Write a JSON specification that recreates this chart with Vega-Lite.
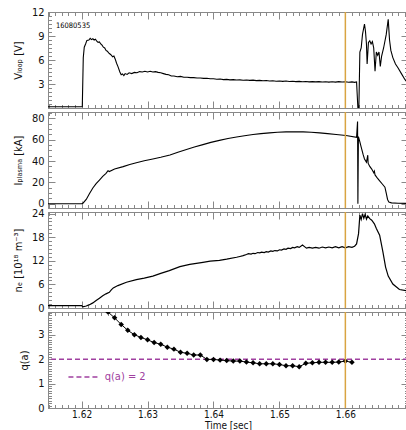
{
"$schema": "https://vega.github.io/schema/vega-lite/v6.json",
"padding": {"left": 11, "top": 5, "right": 0, "bottom": 0},
"spacing": 4,
"bounds": "flush",
"config": {
  "view": {"stroke": "#888", "strokeWidth": 1},
  "font": "Liberation Sans Narrow, DejaVu Sans Condensed, Liberation Sans, sans-serif",
  "axis": {"labelFont": "Liberation Sans Narrow, DejaVu Sans Condensed, Liberation Sans, sans-serif", "titleFont": "Liberation Sans Narrow, DejaVu Sans Condensed, Liberation Sans, sans-serif", "titleFontWeight": "normal", "labelFontSize": 11, "titleFontSize": 11, "labelColor": "#111", "titleColor": "#111", "domainColor": "#888", "tickColor": "#888", "grid": false, "labelOverlap": false, "labelFlush": false, "titlePadding": 8, "labelPadding": 4, "tickSize": 0, "minExtent": 0}
},
"datasets": {
"vloop": [{"t":1.6149,"v":0.15},{"t":1.6201,"v":0.15},{"t":1.62025,"v":6.3},{"t":1.6204,"v":7.6},{"t":1.6206,"v":8.0},{"t":1.6208,"v":8.45},{"t":1.6211,"v":8.5},{"t":1.6213,"v":8.7},{"t":1.6215,"v":8.55},{"t":1.6217,"v":8.65},{"t":1.6219,"v":8.5},{"t":1.6221,"v":8.6},{"t":1.6223,"v":8.35},{"t":1.6225,"v":8.2},{"t":1.6227,"v":8.25},{"t":1.6229,"v":8.0},{"t":1.6231,"v":7.85},{"t":1.6233,"v":7.6},{"t":1.6235,"v":7.5},{"t":1.6237,"v":7.2},{"t":1.6239,"v":7.1},{"t":1.6241,"v":6.9},{"t":1.6243,"v":6.75},{"t":1.6245,"v":6.6},{"t":1.6247,"v":6.4},{"t":1.6249,"v":6.5},{"t":1.6251,"v":6.1},{"t":1.6253,"v":5.6},{"t":1.6255,"v":5.2},{"t":1.6258,"v":4.5},{"t":1.626,"v":4.15},{"t":1.6262,"v":4.25},{"t":1.6264,"v":4.05},{"t":1.6266,"v":4.3},{"t":1.6269,"v":4.2},{"t":1.6272,"v":4.4},{"t":1.6276,"v":4.3},{"t":1.628,"v":4.45},{"t":1.6284,"v":4.4},{"t":1.6288,"v":4.55},{"t":1.6292,"v":4.5},{"t":1.6296,"v":4.6},{"t":1.63,"v":4.5},{"t":1.6304,"v":4.6},{"t":1.6308,"v":4.5},{"t":1.6312,"v":4.55},{"t":1.6316,"v":4.45},{"t":1.632,"v":4.4},{"t":1.6324,"v":4.3},{"t":1.6328,"v":4.2},{"t":1.6332,"v":4.15},{"t":1.6336,"v":4.0},{"t":1.634,"v":4.0},{"t":1.6345,"v":3.9},{"t":1.635,"v":3.95},{"t":1.6355,"v":3.85},{"t":1.636,"v":3.85},{"t":1.6365,"v":3.8},{"t":1.637,"v":3.8},{"t":1.6375,"v":3.75},{"t":1.638,"v":3.75},{"t":1.6385,"v":3.7},{"t":1.639,"v":3.72},{"t":1.6395,"v":3.65},{"t":1.64,"v":3.66},{"t":1.6405,"v":3.6},{"t":1.641,"v":3.62},{"t":1.6415,"v":3.55},{"t":1.642,"v":3.58},{"t":1.6425,"v":3.52},{"t":1.643,"v":3.55},{"t":1.6435,"v":3.5},{"t":1.644,"v":3.52},{"t":1.6445,"v":3.47},{"t":1.645,"v":3.5},{"t":1.6455,"v":3.45},{"t":1.646,"v":3.48},{"t":1.6465,"v":3.42},{"t":1.647,"v":3.45},{"t":1.6475,"v":3.4},{"t":1.648,"v":3.43},{"t":1.6485,"v":3.38},{"t":1.649,"v":3.4},{"t":1.6495,"v":3.35},{"t":1.65,"v":3.38},{"t":1.6505,"v":3.33},{"t":1.651,"v":3.37},{"t":1.6515,"v":3.32},{"t":1.652,"v":3.35},{"t":1.6525,"v":3.3},{"t":1.653,"v":3.33},{"t":1.6535,"v":3.28},{"t":1.654,"v":3.32},{"t":1.6545,"v":3.27},{"t":1.655,"v":3.3},{"t":1.6555,"v":3.26},{"t":1.656,"v":3.3},{"t":1.6565,"v":3.25},{"t":1.657,"v":3.29},{"t":1.6575,"v":3.24},{"t":1.658,"v":3.28},{"t":1.6585,"v":3.24},{"t":1.659,"v":3.3},{"t":1.6595,"v":3.25},{"t":1.66,"v":3.28},{"t":1.6605,"v":3.22},{"t":1.661,"v":3.27},{"t":1.6614,"v":3.2},{"t":1.6617,"v":3.25},{"t":1.6619,"v":0},{"t":1.66205,"v":0},{"t":1.6622,"v":7.0},{"t":1.6624,"v":7.5},{"t":1.6626,"v":9.2},{"t":1.6629,"v":10.5},{"t":1.66305,"v":9.6},{"t":1.6632,"v":8.0},{"t":1.6633,"v":5.5},{"t":1.6635,"v":8.2},{"t":1.6637,"v":8.4},{"t":1.6639,"v":8.0},{"t":1.6641,"v":8.3},{"t":1.6643,"v":7.5},{"t":1.6645,"v":4.6},{"t":1.6647,"v":7.0},{"t":1.6649,"v":6.6},{"t":1.6651,"v":7.0},{"t":1.6653,"v":5.2},{"t":1.6655,"v":6.5},{"t":1.6658,"v":7.5},{"t":1.6662,"v":9.2},{"t":1.6665,"v":11.1},{"t":1.6667,"v":8.5},{"t":1.6669,"v":7.2},{"t":1.6672,"v":6.3},{"t":1.6676,"v":5.5},{"t":1.668,"v":5.0},{"t":1.6685,"v":4.3},{"t":1.669,"v":3.6},{"t":1.6695,"v":3.1}],
"ip": [{"t":1.6149,"i":0},{"t":1.62,"i":0},{"t":1.6202,"i":0.5},{"t":1.6207,"i":4},{"t":1.6212,"i":9.5},{"t":1.6217,"i":14.8},{"t":1.6222,"i":18.8},{"t":1.6227,"i":22.2},{"t":1.6232,"i":25.6},{"t":1.6237,"i":28.5},{"t":1.624,"i":31},{"t":1.6242,"i":30.2},{"t":1.625,"i":32.5},{"t":1.6263,"i":34.8},{"t":1.6273,"i":36.8},{"t":1.6283,"i":38.5},{"t":1.6295,"i":40.3},{"t":1.6308,"i":41.9},{"t":1.632,"i":43.5},{"t":1.6334,"i":45.6},{"t":1.6346,"i":48.3},{"t":1.6359,"i":50.8},{"t":1.6371,"i":53.1},{"t":1.6384,"i":55.4},{"t":1.6396,"i":57.5},{"t":1.6409,"i":59.4},{"t":1.6422,"i":61.1},{"t":1.6435,"i":62.5},{"t":1.6447,"i":63.8},{"t":1.646,"i":64.9},{"t":1.6472,"i":65.7},{"t":1.6485,"i":66.4},{"t":1.6497,"i":67},{"t":1.651,"i":67.4},{"t":1.6523,"i":67.5},{"t":1.6536,"i":67.4},{"t":1.6548,"i":67},{"t":1.6561,"i":66.4},{"t":1.6573,"i":65.7},{"t":1.6586,"i":64.9},{"t":1.6601,"i":64},{"t":1.6617,"i":62.3},{"t":1.66185,"i":77},{"t":1.6619,"i":0},{"t":1.66198,"i":63},{"t":1.6622,"i":58},{"t":1.6624,"i":53},{"t":1.6627,"i":46},{"t":1.6629,"i":42},{"t":1.6632,"i":39},{"t":1.6634,"i":45.5},{"t":1.66345,"i":38},{"t":1.6637,"i":35},{"t":1.664,"i":32.5},{"t":1.6643,"i":29},{"t":1.6644,"i":30.5},{"t":1.6645,"i":27},{"t":1.6648,"i":24.5},{"t":1.6652,"i":21.5},{"t":1.6656,"i":18.5},{"t":1.666,"i":15.5},{"t":1.6662,"i":10},{"t":1.6664,"i":4},{"t":1.6666,"i":1.5},{"t":1.667,"i":0.8},{"t":1.668,"i":0.5},{"t":1.6695,"i":0.3}],
"ne": [{"t":1.6149,"n":0.6},{"t":1.62,"n":0.6},{"t":1.6202,"n":0.3},{"t":1.6207,"n":0.5},{"t":1.6212,"n":0.85},{"t":1.6217,"n":1.3},{"t":1.6222,"n":1.9},{"t":1.6227,"n":2.5},{"t":1.6232,"n":3.1},{"t":1.6237,"n":3.6},{"t":1.6242,"n":4.0},{"t":1.6245,"n":4.6},{"t":1.6248,"n":5.1},{"t":1.6255,"n":5.7},{"t":1.6268,"n":6.55},{"t":1.6283,"n":7.2},{"t":1.6295,"n":7.6},{"t":1.6308,"n":8.1},{"t":1.632,"n":8.8},{"t":1.6333,"n":9.5},{"t":1.6349,"n":10.5},{"t":1.6364,"n":11.1},{"t":1.6384,"n":11.6},{"t":1.6395,"n":11.9},{"t":1.6409,"n":12.1},{"t":1.642,"n":12.4},{"t":1.6435,"n":12.9},{"t":1.644,"n":13.1},{"t":1.6445,"n":13.3},{"t":1.645,"n":13.6},{"t":1.6453,"n":13.8},{"t":1.6457,"n":13.7},{"t":1.646,"n":13.9},{"t":1.6463,"n":13.8},{"t":1.6467,"n":14.1},{"t":1.647,"n":14.0},{"t":1.6473,"n":14.2},{"t":1.6477,"n":14.1},{"t":1.648,"n":14.3},{"t":1.6483,"n":14.2},{"t":1.6487,"n":14.5},{"t":1.649,"n":14.4},{"t":1.6493,"n":14.6},{"t":1.6497,"n":14.5},{"t":1.65,"n":14.8},{"t":1.6503,"n":14.7},{"t":1.6507,"n":15.0},{"t":1.651,"n":14.9},{"t":1.6513,"n":15.2},{"t":1.6517,"n":15.1},{"t":1.652,"n":15.4},{"t":1.6523,"n":15.3},{"t":1.6527,"n":15.6},{"t":1.653,"n":15.4},{"t":1.6535,"n":16.0},{"t":1.6538,"n":15.6},{"t":1.6541,"n":15.2},{"t":1.6545,"n":15.4},{"t":1.655,"n":15.2},{"t":1.6555,"n":15.4},{"t":1.656,"n":15.2},{"t":1.6565,"n":15.5},{"t":1.657,"n":15.3},{"t":1.6575,"n":15.5},{"t":1.658,"n":15.3},{"t":1.6585,"n":15.6},{"t":1.659,"n":15.3},{"t":1.6595,"n":15.6},{"t":1.66,"n":15.3},{"t":1.6605,"n":15.6},{"t":1.661,"n":15.4},{"t":1.6614,"n":15.7},{"t":1.6617,"n":16.3},{"t":1.662,"n":18.9},{"t":1.6622,"n":23.6},{"t":1.6624,"n":22.5},{"t":1.6626,"n":24},{"t":1.6628,"n":22.8},{"t":1.663,"n":23.8},{"t":1.6632,"n":22.6},{"t":1.6634,"n":23.4},{"t":1.6637,"n":22.7},{"t":1.664,"n":22.3},{"t":1.6644,"n":21.4},{"t":1.6647,"n":20.2},{"t":1.6652,"n":18.5},{"t":1.6657,"n":14.2},{"t":1.6661,"n":10.4},{"t":1.6665,"n":8.1},{"t":1.6672,"n":6.1},{"t":1.6682,"n":4.7},{"t":1.6695,"n":4.3}],
"qa": [{"t":1.624,"q":3.93},{"t":1.625,"q":3.69},{"t":1.626,"q":3.42},{"t":1.627,"q":3.18},{"t":1.628,"q":3.0},{"t":1.629,"q":2.89},{"t":1.63,"q":2.79},{"t":1.631,"q":2.68},{"t":1.632,"q":2.61},{"t":1.633,"q":2.49},{"t":1.634,"q":2.41},{"t":1.635,"q":2.28},{"t":1.636,"q":2.24},{"t":1.637,"q":2.17},{"t":1.638,"q":2.17},{"t":1.639,"q":1.99},{"t":1.64,"q":1.99},{"t":1.641,"q":1.96},{"t":1.642,"q":1.94},{"t":1.643,"q":1.92},{"t":1.644,"q":1.92},{"t":1.645,"q":1.88},{"t":1.646,"q":1.85},{"t":1.647,"q":1.81},{"t":1.648,"q":1.81},{"t":1.649,"q":1.81},{"t":1.65,"q":1.78},{"t":1.651,"q":1.73},{"t":1.652,"q":1.73},{"t":1.653,"q":1.69},{"t":1.654,"q":1.83},{"t":1.655,"q":1.85},{"t":1.656,"q":1.87},{"t":1.657,"q":1.87},{"t":1.658,"q":1.87},{"t":1.659,"q":1.88},{"t":1.66,"q":1.92},{"t":1.661,"q":1.87}]
},
"vconcat": [
{
  "width": 360, "height": 96,
  "data": {"name": "vloop"},
  "layer": [
    {"mark": {"type": "line", "color": "black", "strokeWidth": 1.1, "clip": true},
     "encoding": {
      "x": {"field": "t", "type": "quantitative", "scale": {"domain": [1.6149, 1.6695], "nice": false, "zero": false},
        "axis": {"orient": "bottom", "labels": false, "title": null, "values": [1.615,1.616,1.617,1.618,1.619,1.62,1.621,1.622,1.623,1.624,1.625,1.626,1.627,1.628,1.629,1.63,1.631,1.632,1.633,1.634,1.635,1.636,1.637,1.638,1.639,1.64,1.641,1.642,1.643,1.644,1.645,1.646,1.647,1.648,1.649,1.65,1.651,1.652,1.653,1.654,1.655,1.656,1.657,1.658,1.659,1.66,1.661,1.662,1.663,1.664,1.665,1.666,1.667,1.668,1.669],
          "encoding": {"ticks": {"y2": {"value": {"expr": "abs(datum.value*100-round(datum.value*100))<0.01 ? -7 : -3.5"}}}}}},
      "y": {"field": "v", "type": "quantitative", "scale": {"domain": [0, 12], "nice": false},
        "axis": {"orient": "left", "title": "Vₗₒₒₚ [V]", "values": [0,0.5,1,1.5,2,2.5,3,3.5,4,4.5,5,5.5,6,6.5,7,7.5,8,8.5,9,9.5,10,10.5,11,11.5,12],
          "labelExpr": "datum.value % 3 == 0 && datum.value > 0 ? format(datum.value, 'd') : ''",
          "encoding": {"ticks": {"x2": {"value": {"expr": "datum.value % 3 == 0 ? 7 : 3.5"}}}}}}
     }},
    {"mark": {"type": "line", "opacity": 0},
     "encoding": {
      "x": {"field": "t", "type": "quantitative",
        "axis": {"orient": "top", "labels": false, "title": null, "values": [1.615,1.616,1.617,1.618,1.619,1.62,1.621,1.622,1.623,1.624,1.625,1.626,1.627,1.628,1.629,1.63,1.631,1.632,1.633,1.634,1.635,1.636,1.637,1.638,1.639,1.64,1.641,1.642,1.643,1.644,1.645,1.646,1.647,1.648,1.649,1.65,1.651,1.652,1.653,1.654,1.655,1.656,1.657,1.658,1.659,1.66,1.661,1.662,1.663,1.664,1.665,1.666,1.667,1.668,1.669],
          "encoding": {"ticks": {"y2": {"value": {"expr": "abs(datum.value*100-round(datum.value*100))<0.01 ? 7 : 3.5"}}}}}},
      "y": {"field": "v", "type": "quantitative",
        "axis": {"orient": "right", "labels": false, "title": null, "values": [0,0.5,1,1.5,2,2.5,3,3.5,4,4.5,5,5.5,6,6.5,7,7.5,8,8.5,9,9.5,10,10.5,11,11.5,12],
          "encoding": {"ticks": {"x2": {"value": {"expr": "datum.value % 3 == 0 ? -7 : -3.5"}}}}}}
     }},
    {"data": {"values": [{}]}, "mark": {"type": "rule", "color": "#D9A441", "strokeWidth": 1.5},
     "encoding": {"x": {"datum": 1.66, "type": "quantitative", "axis": null}}},
    {"data": {"values": [{}]}, "mark": {"type": "text", "align": "left", "baseline": "middle", "fontSize": 7.5, "color": "#000000"},
     "encoding": {"x": {"datum": 1.6161, "type": "quantitative", "axis": null}, "y": {"datum": 10.3, "type": "quantitative", "axis": null}, "text": {"value": "16080535"}}}
  ],
  "resolve": {"axis": {"x": "independent", "y": "independent"}}
},
{
  "width": 360, "height": 96,
  "data": {"name": "ip"},
  "layer": [
    {"mark": {"type": "line", "color": "black", "strokeWidth": 1.1, "clip": true},
     "encoding": {
      "x": {"field": "t", "type": "quantitative", "scale": {"domain": [1.6149, 1.6695], "nice": false, "zero": false},
        "axis": {"orient": "bottom", "labels": false, "title": null, "values": [1.615,1.616,1.617,1.618,1.619,1.62,1.621,1.622,1.623,1.624,1.625,1.626,1.627,1.628,1.629,1.63,1.631,1.632,1.633,1.634,1.635,1.636,1.637,1.638,1.639,1.64,1.641,1.642,1.643,1.644,1.645,1.646,1.647,1.648,1.649,1.65,1.651,1.652,1.653,1.654,1.655,1.656,1.657,1.658,1.659,1.66,1.661,1.662,1.663,1.664,1.665,1.666,1.667,1.668,1.669],
          "encoding": {"ticks": {"y2": {"value": {"expr": "abs(datum.value*100-round(datum.value*100))<0.01 ? -7 : -3.5"}}}}}},
      "y": {"field": "i", "type": "quantitative", "scale": {"domain": [-4, 86], "nice": false, "zero": false},
        "axis": {"orient": "left", "title": "Iₚₗₐₛₘₐ [kA]", "values": [0,5,10,15,20,25,30,35,40,45,50,55,60,65,70,75,80,85],
          "labelExpr": "datum.value % 20 == 0 ? format(datum.value, 'd') : ''",
          "encoding": {"ticks": {"x2": {"value": {"expr": "datum.value % 20 == 0 ? 7 : 3.5"}}}}}}
     }},
    {"mark": {"type": "line", "opacity": 0},
     "encoding": {
      "x": {"field": "t", "type": "quantitative",
        "axis": {"orient": "top", "labels": false, "title": null, "values": [1.615,1.616,1.617,1.618,1.619,1.62,1.621,1.622,1.623,1.624,1.625,1.626,1.627,1.628,1.629,1.63,1.631,1.632,1.633,1.634,1.635,1.636,1.637,1.638,1.639,1.64,1.641,1.642,1.643,1.644,1.645,1.646,1.647,1.648,1.649,1.65,1.651,1.652,1.653,1.654,1.655,1.656,1.657,1.658,1.659,1.66,1.661,1.662,1.663,1.664,1.665,1.666,1.667,1.668,1.669],
          "encoding": {"ticks": {"y2": {"value": {"expr": "abs(datum.value*100-round(datum.value*100))<0.01 ? 7 : 3.5"}}}}}},
      "y": {"field": "i", "type": "quantitative",
        "axis": {"orient": "right", "labels": false, "title": null, "values": [0,5,10,15,20,25,30,35,40,45,50,55,60,65,70,75,80,85],
          "encoding": {"ticks": {"x2": {"value": {"expr": "datum.value % 20 == 0 ? -7 : -3.5"}}}}}}
     }},
    {"data": {"values": [{}]}, "mark": {"type": "rule", "color": "#D9A441", "strokeWidth": 1.5},
     "encoding": {"x": {"datum": 1.66, "type": "quantitative", "axis": null}}}
  ],
  "resolve": {"axis": {"x": "independent", "y": "independent"}}
},
{
  "width": 360, "height": 96,
  "data": {"name": "ne"},
  "layer": [
    {"mark": {"type": "line", "color": "black", "strokeWidth": 1.2, "clip": true},
     "encoding": {
      "x": {"field": "t", "type": "quantitative", "scale": {"domain": [1.6149, 1.6695], "nice": false, "zero": false},
        "axis": {"orient": "bottom", "labels": false, "title": null, "values": [1.615,1.616,1.617,1.618,1.619,1.62,1.621,1.622,1.623,1.624,1.625,1.626,1.627,1.628,1.629,1.63,1.631,1.632,1.633,1.634,1.635,1.636,1.637,1.638,1.639,1.64,1.641,1.642,1.643,1.644,1.645,1.646,1.647,1.648,1.649,1.65,1.651,1.652,1.653,1.654,1.655,1.656,1.657,1.658,1.659,1.66,1.661,1.662,1.663,1.664,1.665,1.666,1.667,1.668,1.669],
          "encoding": {"ticks": {"y2": {"value": {"expr": "abs(datum.value*100-round(datum.value*100))<0.01 ? -7 : -3.5"}}}}}},
      "y": {"field": "n", "type": "quantitative", "scale": {"domain": [0, 24.4], "nice": false},
        "axis": {"orient": "left", "title": "nₑ [10¹⁸ m⁻³]", "values": [0,1,2,3,4,5,6,7,8,9,10,11,12,13,14,15,16,17,18,19,20,21,22,23,24],
          "labelExpr": "datum.value % 6 == 0 ? format(datum.value, 'd') : ''",
          "encoding": {"ticks": {"x2": {"value": {"expr": "datum.value % 6 == 0 ? 7 : 3.5"}}}}}}
     }},
    {"mark": {"type": "line", "opacity": 0},
     "encoding": {
      "x": {"field": "t", "type": "quantitative",
        "axis": {"orient": "top", "labels": false, "title": null, "values": [1.615,1.616,1.617,1.618,1.619,1.62,1.621,1.622,1.623,1.624,1.625,1.626,1.627,1.628,1.629,1.63,1.631,1.632,1.633,1.634,1.635,1.636,1.637,1.638,1.639,1.64,1.641,1.642,1.643,1.644,1.645,1.646,1.647,1.648,1.649,1.65,1.651,1.652,1.653,1.654,1.655,1.656,1.657,1.658,1.659,1.66,1.661,1.662,1.663,1.664,1.665,1.666,1.667,1.668,1.669],
          "encoding": {"ticks": {"y2": {"value": {"expr": "abs(datum.value*100-round(datum.value*100))<0.01 ? 7 : 3.5"}}}}}},
      "y": {"field": "n", "type": "quantitative",
        "axis": {"orient": "right", "labels": false, "title": null, "values": [0,1,2,3,4,5,6,7,8,9,10,11,12,13,14,15,16,17,18,19,20,21,22,23,24],
          "encoding": {"ticks": {"x2": {"value": {"expr": "datum.value % 6 == 0 ? -7 : -3.5"}}}}}}
     }},
    {"data": {"values": [{}]}, "mark": {"type": "rule", "color": "#D9A441", "strokeWidth": 1.5},
     "encoding": {"x": {"datum": 1.66, "type": "quantitative", "axis": null}}}
  ],
  "resolve": {"axis": {"x": "independent", "y": "independent"}}
},
{
  "width": 360, "height": 96,
  "data": {"name": "qa"},
  "layer": [
    {"data": {"values": [{}]}, "mark": {"type": "rule", "color": "#A040A0", "strokeWidth": 1.5, "strokeDash": [5, 3]},
     "encoding": {"y": {"datum": 2, "type": "quantitative", "axis": null}}},
    {"mark": {"type": "line", "color": "black", "strokeWidth": 1, "clip": true, "point": {"shape": "diamond", "size": 30, "filled": true, "color": "black", "opacity": 1}},
     "encoding": {
      "x": {"field": "t", "type": "quantitative", "scale": {"domain": [1.6149, 1.6695], "nice": false, "zero": false},
        "axis": {"orient": "bottom", "title": "Time [sec]", "titlePadding": 1, "titleFontSize": 10, "labelFontSize": 10, "labelPadding": 1, "values": [1.615,1.616,1.617,1.618,1.619,1.62,1.621,1.622,1.623,1.624,1.625,1.626,1.627,1.628,1.629,1.63,1.631,1.632,1.633,1.634,1.635,1.636,1.637,1.638,1.639,1.64,1.641,1.642,1.643,1.644,1.645,1.646,1.647,1.648,1.649,1.65,1.651,1.652,1.653,1.654,1.655,1.656,1.657,1.658,1.659,1.66,1.661,1.662,1.663,1.664,1.665,1.666,1.667,1.668,1.669],
          "labelExpr": "abs(datum.value*100-round(datum.value*100))<0.01 ? format(datum.value, '.2f') : ''",
          "encoding": {"ticks": {"y2": {"value": {"expr": "abs(datum.value*100-round(datum.value*100))<0.01 ? -7 : -3.5"}}}}}},
      "y": {"field": "q", "type": "quantitative", "scale": {"domain": [0, 3.93], "nice": false},
        "axis": {"orient": "left", "title": "q(a)", "values": [0,0.1,0.2,0.3,0.4,0.5,0.6,0.7,0.8,0.9,1,1.1,1.2,1.3,1.4,1.5,1.6,1.7,1.8,1.9,2,2.1,2.2,2.3,2.4,2.5,2.6,2.7,2.8,2.9,3,3.1,3.2,3.3,3.4,3.5,3.6,3.7,3.8,3.9],
          "labelExpr": "round(datum.value*10) % 10 == 0 ? format(datum.value, 'd') : ''",
          "encoding": {"ticks": {"x2": {"value": {"expr": "round(datum.value*10) % 10 == 0 ? 7 : 3.5"}}}}}}
     }},
    {"mark": {"type": "line", "opacity": 0},
     "encoding": {
      "x": {"field": "t", "type": "quantitative",
        "axis": {"orient": "top", "labels": false, "title": null, "values": [1.615,1.616,1.617,1.618,1.619,1.62,1.621,1.622,1.623,1.624,1.625,1.626,1.627,1.628,1.629,1.63,1.631,1.632,1.633,1.634,1.635,1.636,1.637,1.638,1.639,1.64,1.641,1.642,1.643,1.644,1.645,1.646,1.647,1.648,1.649,1.65,1.651,1.652,1.653,1.654,1.655,1.656,1.657,1.658,1.659,1.66,1.661,1.662,1.663,1.664,1.665,1.666,1.667,1.668,1.669],
          "encoding": {"ticks": {"y2": {"value": {"expr": "abs(datum.value*100-round(datum.value*100))<0.01 ? 7 : 3.5"}}}}}},
      "y": {"field": "q", "type": "quantitative",
        "axis": {"orient": "right", "labels": false, "title": null, "values": [0,0.1,0.2,0.3,0.4,0.5,0.6,0.7,0.8,0.9,1,1.1,1.2,1.3,1.4,1.5,1.6,1.7,1.8,1.9,2,2.1,2.2,2.3,2.4,2.5,2.6,2.7,2.8,2.9,3,3.1,3.2,3.3,3.4,3.5,3.6,3.7,3.8,3.9],
          "encoding": {"ticks": {"x2": {"value": {"expr": "round(datum.value*10) % 10 == 0 ? -7 : -3.5"}}}}}}
     }},
    {"data": {"values": [{}]}, "mark": {"type": "rule", "color": "#D9A441", "strokeWidth": 1.5},
     "encoding": {"x": {"datum": 1.66, "type": "quantitative", "axis": null}}},
    {"data": {"values": [{}]}, "mark": {"type": "rule", "color": "#A040A0", "strokeWidth": 1.5, "strokeDash": [5, 3]},
     "encoding": {"x": {"datum": 1.618, "type": "quantitative", "axis": null}, "x2": {"datum": 1.6227}, "y": {"datum": 1.27, "type": "quantitative", "axis": null}}},
    {"data": {"values": [{}]}, "mark": {"type": "text", "align": "left", "baseline": "middle", "fontSize": 11, "color": "#A040A0"},
     "encoding": {"x": {"datum": 1.6235, "type": "quantitative", "axis": null}, "y": {"datum": 1.27, "type": "quantitative", "axis": null}, "text": {"value": "q(a) = 2"}}}
  ],
  "resolve": {"axis": {"x": "independent", "y": "independent"}}
}
]
}
